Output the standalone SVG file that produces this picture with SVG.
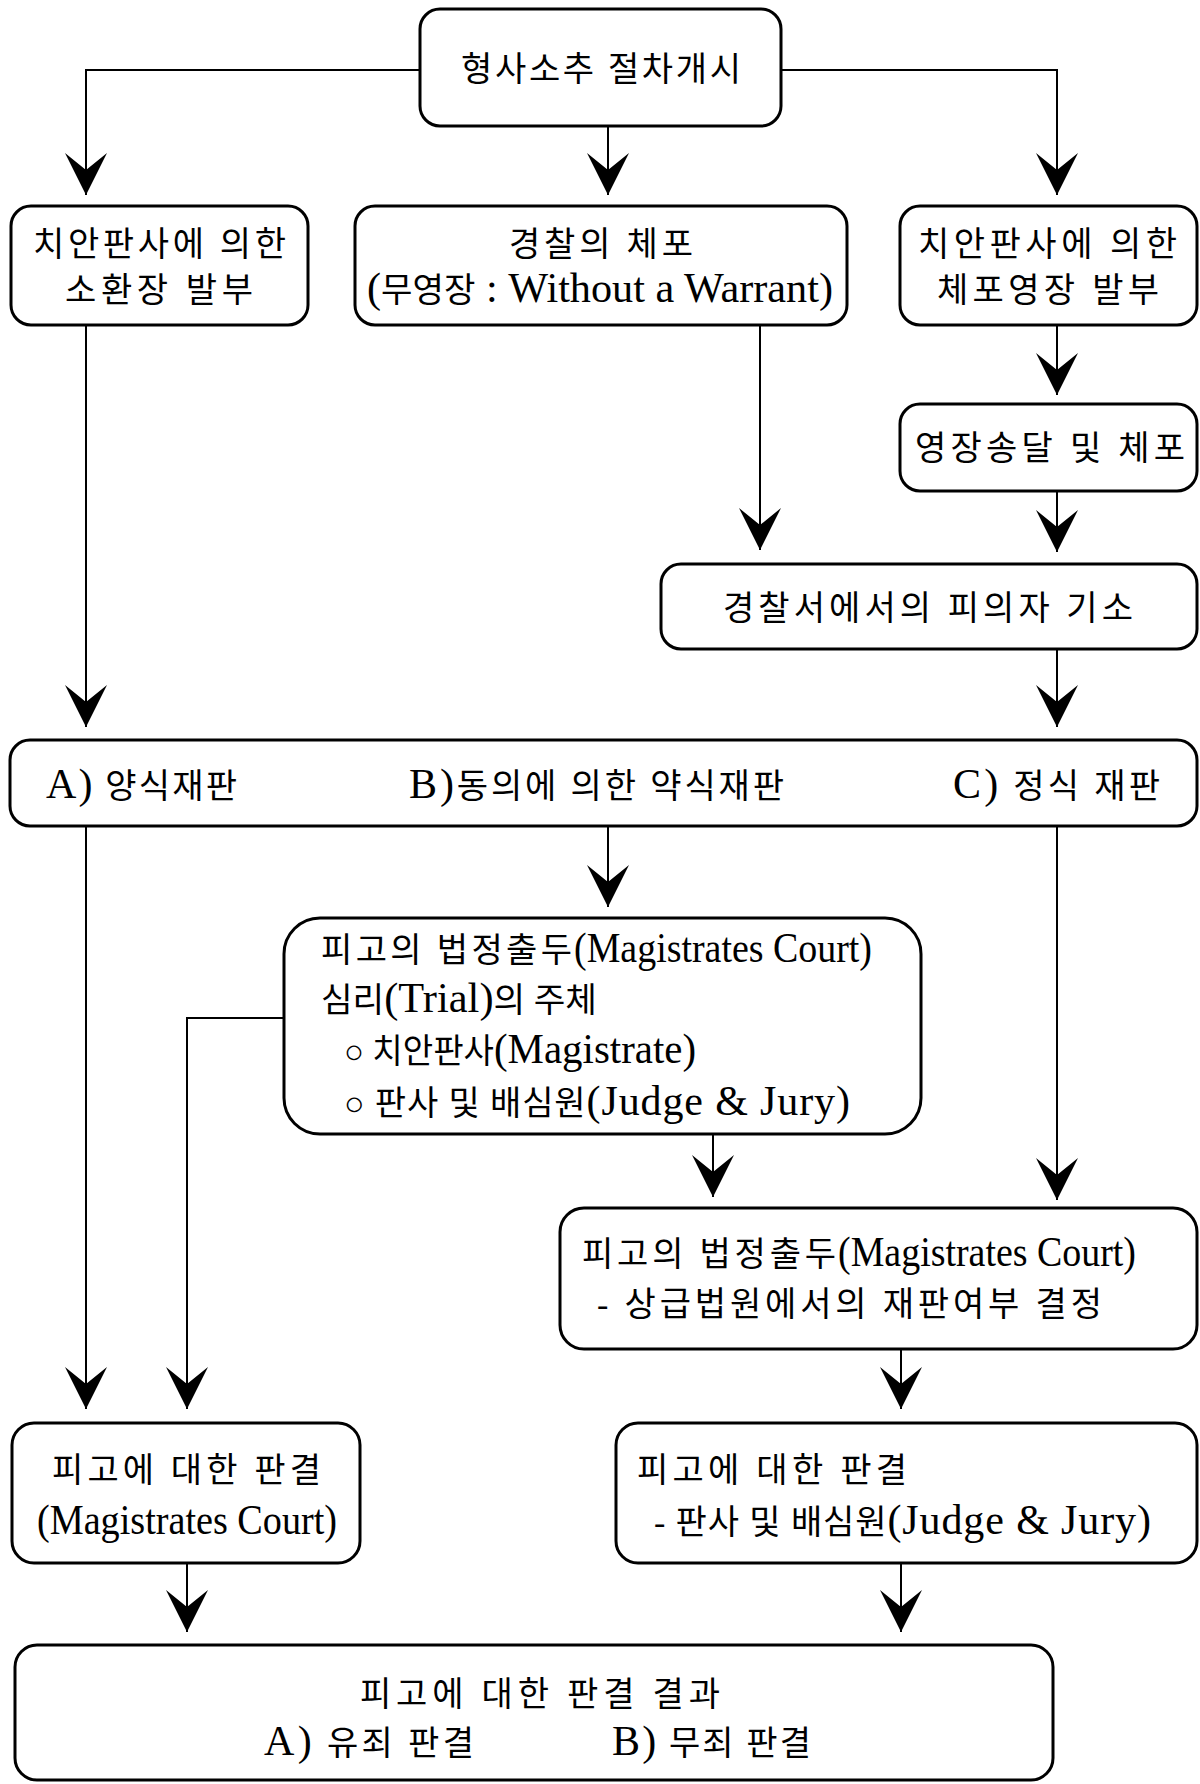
<svg xmlns="http://www.w3.org/2000/svg" width="1200" height="1784" viewBox="0 0 1200 1784">
<style>
.box{fill:#fff;stroke:#000;stroke-width:3}
.con{fill:none;stroke:#000;stroke-width:2;marker-end:url(#arr)}
text{font-family:"Liberation Serif","Noto Sans CJK KR",serif;font-size:34px;fill:#000}
.lat{font-size:42px}
</style>
<defs>
<marker id="arr" viewBox="0 -21 42 42" refX="42" refY="0" markerWidth="42" markerHeight="42" markerUnits="userSpaceOnUse" orient="auto">
<path d="M0,-21 L42,0 L0,21 L17,0 Z" fill="#000"/>
</marker>
</defs>
<rect width="1200" height="1784" fill="#fff"/>
<g id="connectors">
<path class="con" d="M420,70 H86 V195"/>
<path class="con" d="M781,70 H1057 V195"/>
<path class="con" d="M608,126 V195"/>
<path class="con" d="M86,325 V727"/>
<path class="con" d="M760,325 V550"/>
<path class="con" d="M1057,325 V395"/>
<path class="con" d="M1057,491 V552"/>
<path class="con" d="M1057,649 V727"/>
<path class="con" d="M608,826 V907"/>
<path class="con" d="M86,826 V1409"/>
<path class="con" d="M1057,826 V1200"/>
<path class="con" d="M284,1018 H187 V1409"/>
<path class="con" d="M713,1134 V1197"/>
<path class="con" d="M901,1349 V1409"/>
<path class="con" d="M187,1563 V1632"/>
<path class="con" d="M901,1563 V1632"/>
</g>
<g id="n-start">
<rect class="box" x="420" y="9" width="361" height="117" rx="20"/>
<text x="461" y="81" textLength="280">형사소추 절차개시</text>
</g>
<g id="n-summons">
<rect class="box" x="11" y="206" width="297" height="119" rx="20"/>
<text x="33" y="256" textLength="253">치안판사에 의한</text>
<text x="65" y="302" textLength="188">소환장 발부</text>
</g>
<g id="n-police-arrest">
<rect class="box" x="355" y="206" width="492" height="119" rx="20"/>
<text x="509" y="256" textLength="184">경찰의 체포</text>
<text x="367" y="302" textLength="466" lengthAdjust="spacingAndGlyphs"><tspan class="lat">(</tspan>무영장<tspan class="lat"> : Without a Warrant)</tspan></text>
</g>
<g id="n-warrant">
<rect class="box" x="900" y="206" width="297" height="119" rx="20"/>
<text x="918" y="256" textLength="259">치안판사에 의한</text>
<text x="937" y="302" textLength="222">체포영장 발부</text>
</g>
<g id="n-serve">
<rect class="box" x="900" y="404" width="297" height="87" rx="20"/>
<text x="915" y="460" textLength="270">영장송달 및 체포</text>
</g>
<g id="n-charge">
<rect class="box" x="661" y="564" width="536" height="85" rx="20"/>
<text x="723" y="620" textLength="410">경찰서에서의 피의자 기소</text>
</g>
<g id="n-trial-types">
<rect class="box" x="10" y="740" width="1187" height="86" rx="20"/>
<text x="46" y="798" textLength="191"><tspan class="lat">A)</tspan> 양식재판</text>
<text x="409" y="798" textLength="375"><tspan class="lat">B)</tspan>동의에 의한 약식재판</text>
<text x="953" y="798" textLength="207"><tspan class="lat">C)</tspan> 정식 재판</text>
</g>
<g id="n-appear1">
<rect class="box" x="284" y="918" width="637" height="216" rx="36"/>
<text x="321" y="962" textLength="251">피고의 법정출두</text>
<text class="lat" x="574" y="962" textLength="298" lengthAdjust="spacingAndGlyphs">(Magistrates Court)</text>
<text x="321" y="1012" textLength="276" lengthAdjust="spacingAndGlyphs">심리<tspan class="lat">(Trial)</tspan>의 주체</text>
<text x="344" y="1063" textLength="352" lengthAdjust="spacingAndGlyphs">○ 치안판사<tspan class="lat">(Magistrate)</tspan></text>
<text x="344" y="1115" textLength="506">○ 판사 및 배심원<tspan class="lat">(Judge &amp; Jury)</tspan></text>
</g>
<g id="n-appear2">
<rect class="box" x="560" y="1208" width="637" height="141" rx="24"/>
<text x="582" y="1266" textLength="254">피고의 법정출두</text>
<text class="lat" x="838" y="1266" textLength="298" lengthAdjust="spacingAndGlyphs">(Magistrates Court)</text>
<text x="597" y="1316" textLength="505">- 상급법원에서의 재판여부 결정</text>
</g>
<g id="n-verdict-mc">
<rect class="box" x="12" y="1423" width="348" height="140" rx="22"/>
<text x="52" y="1482" textLength="269">피고에 대한 판결</text>
<text class="lat" x="37" y="1534" textLength="300" lengthAdjust="spacingAndGlyphs">(Magistrates Court)</text>
</g>
<g id="n-verdict-jury">
<rect class="box" x="616" y="1423" width="581" height="140" rx="22"/>
<text x="637" y="1482" textLength="270">피고에 대한 판결</text>
<text x="654" y="1534" textLength="497">- 판사 및 배심원<tspan class="lat">(Judge &amp; Jury)</tspan></text>
</g>
<g id="n-result">
<rect class="box" x="15" y="1645" width="1038" height="135" rx="22"/>
<text x="360" y="1706" textLength="360">피고에 대한 판결 결과</text>
<text x="264" y="1755" textLength="210"><tspan class="lat">A)</tspan> 유죄 판결</text>
<text x="612" y="1755" textLength="199"><tspan class="lat">B)</tspan> 무죄 판결</text>
</g>
</svg>
